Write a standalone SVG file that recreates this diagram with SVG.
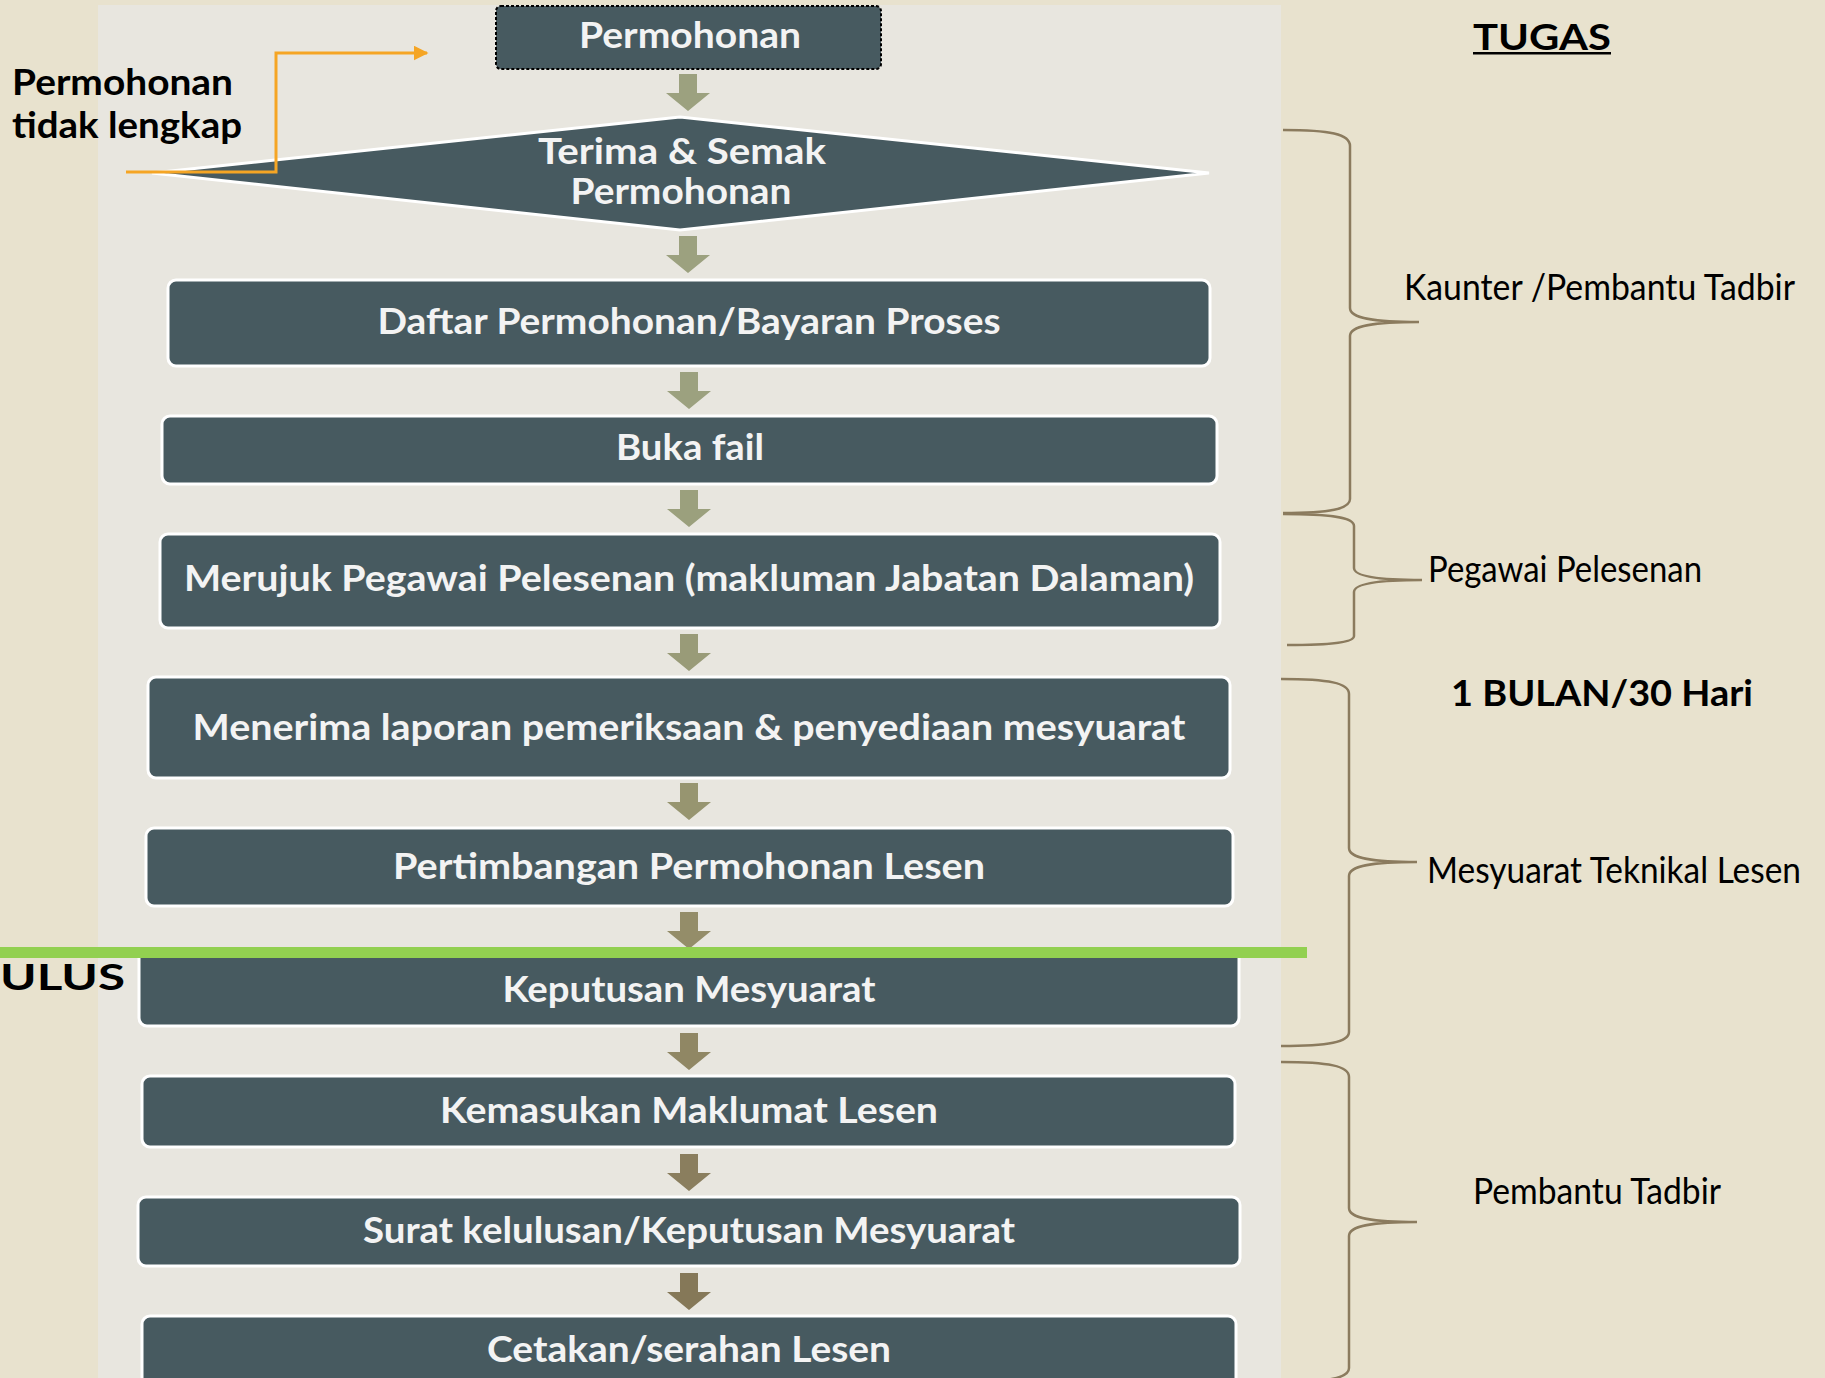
<svg xmlns="http://www.w3.org/2000/svg" xmlns:xlink="http://www.w3.org/1999/xlink" width="1825" height="1378" viewBox="0 0 1825 1378">
<style>
.box{fill:#475A60;stroke:#FFFFFF;stroke-width:3}
.bt{font-family:Lato,"Liberation Sans",sans-serif;font-weight:bold;font-size:36px;fill:#F3F3F3;text-anchor:middle}
.lbl{font-family:Lato,"Liberation Sans",sans-serif;font-size:36px;fill:#000000}
.lblb{font-family:Lato,"Liberation Sans",sans-serif;font-weight:bold;font-size:37px;fill:#000000}
.brace{fill:none;stroke:#8B7B5E;stroke-width:2.5}
</style>
<defs>
<path id="arr" d="M-9,0 H9 V19 H22 L0,37 L-22,19 H-9 Z"/>
<marker id="oarr" viewBox="0 0 10 10" refX="9" refY="5" markerWidth="5" markerHeight="5" orient="auto" markerUnits="strokeWidth">
<path d="M0,0 L10,5 L0,10 Z" fill="#F5A524"/>
</marker>
</defs>
<rect x="0" y="0" width="1825" height="1378" fill="#E8E2CE"/>
<rect x="98" y="5" width="1183" height="1373" fill="#E8E6DF"/>

<g id="connectors">
<use xlink:href="#arr" x="688" y="74" fill="#9CA17F"/>
<use xlink:href="#arr" x="688" y="236" fill="#9CA17F"/>
<use xlink:href="#arr" x="689" y="372" fill="#9CA17F"/>
<use xlink:href="#arr" x="689" y="490" fill="#9BA07D"/>
<use xlink:href="#arr" x="689" y="634" fill="#999B78"/>
<use xlink:href="#arr" x="689" y="783" fill="#979570"/>
<use xlink:href="#arr" x="689" y="912" fill="#948D69"/>
<use xlink:href="#arr" x="689" y="1033" fill="#908764"/>
<use xlink:href="#arr" x="689" y="1154" fill="#8A7E5E"/>
<use xlink:href="#arr" x="689" y="1273" fill="#857858"/>
</g>

<g id="n-permohonan">
<rect x="496" y="6" width="385" height="63" rx="5" fill="#475A60" stroke="#000000" stroke-width="2" stroke-dasharray="3 2"/>
<text class="bt" x="690" y="48" textLength="222" lengthAdjust="spacingAndGlyphs">Permohonan</text>
</g>

<g id="n-terima">
<polygon points="152,173 680,117 1209,173 680,230" fill="#475A60" stroke="#FFFFFF" stroke-width="3"/>
<text class="bt" x="682" y="164" font-size="33" textLength="288" lengthAdjust="spacingAndGlyphs">Terima &amp; Semak</text>
<text class="bt" x="681" y="204" font-size="33" textLength="221" lengthAdjust="spacingAndGlyphs">Permohonan</text>
</g>

<g id="orange-return">
<polyline points="126,172 276,172 276,53 427,53" fill="none" stroke="#F5A524" stroke-width="3" marker-end="url(#oarr)"/>
</g>

<g id="n-tidak-lengkap">
<text class="lblb" x="12" y="95" textLength="221" lengthAdjust="spacingAndGlyphs">Permohonan</text>
<text class="lblb" x="12" y="138" textLength="230" lengthAdjust="spacingAndGlyphs">tidak lengkap</text>
</g>

<g id="n-daftar">
<rect class="box" x="168" y="280" width="1042" height="86" rx="8"/>
<text class="bt" x="689" y="334" textLength="623" lengthAdjust="spacingAndGlyphs">Daftar Permohonan/Bayaran Proses</text>
</g>
<g id="n-buka">
<rect class="box" x="162" y="416" width="1055" height="68" rx="8"/>
<text class="bt" x="690" y="460" textLength="148" lengthAdjust="spacingAndGlyphs">Buka fail</text>
</g>
<g id="n-merujuk">
<rect class="box" x="160" y="534" width="1060" height="94" rx="8"/>
<text class="bt" x="689" y="591" textLength="1010" lengthAdjust="spacingAndGlyphs">Merujuk Pegawai Pelesenan (makluman Jabatan Dalaman)</text>
</g>
<g id="n-menerima">
<rect class="box" x="148" y="677" width="1082" height="101" rx="8"/>
<text class="bt" x="689" y="740" textLength="993" lengthAdjust="spacingAndGlyphs">Menerima laporan pemeriksaan &amp; penyediaan mesyuarat</text>
</g>
<g id="n-pertimbangan">
<rect class="box" x="146" y="828" width="1087" height="78" rx="8"/>
<text class="bt" x="689" y="879" textLength="592" lengthAdjust="spacingAndGlyphs">Pertimbangan Permohonan Lesen</text>
</g>
<g id="n-keputusan">
<rect class="box" x="139" y="950" width="1100" height="76" rx="8"/>
<text class="bt" x="689" y="1002" textLength="373" lengthAdjust="spacingAndGlyphs">Keputusan Mesyuarat</text>
</g>
<g id="n-kemasukan">
<rect class="box" x="142" y="1076" width="1093" height="71" rx="8"/>
<text class="bt" x="689" y="1123" textLength="498" lengthAdjust="spacingAndGlyphs">Kemasukan Maklumat Lesen</text>
</g>
<g id="n-surat">
<rect class="box" x="138" y="1197" width="1102" height="69" rx="8"/>
<text class="bt" x="689" y="1243" textLength="652" lengthAdjust="spacingAndGlyphs">Surat kelulusan/Keputusan Mesyuarat</text>
</g>
<g id="n-cetakan">
<rect class="box" x="142" y="1316" width="1094" height="90" rx="8"/>
<text class="bt" x="689" y="1362" textLength="404" lengthAdjust="spacingAndGlyphs">Cetakan/serahan Lesen</text>
</g>

<g id="lulus-line">
<rect x="0" y="947" width="1307" height="11" fill="#92D050"/>
<text class="lblb" x="0" y="990" font-size="40" font-weight="900" textLength="125" lengthAdjust="spacingAndGlyphs">ULUS</text>
</g>

<g id="n-tugas">
<text class="lblb" x="1473" y="50" textLength="138" lengthAdjust="spacingAndGlyphs">TUGAS</text>
<rect x="1473" y="52" width="138" height="2.5" fill="#000000"/>
</g>

<g id="braces">
<path class="brace" d="M1283,130 C1330,130 1350,134 1350,146 L1350,308 C1350,318 1372,322 1419,322 C1372,322 1350,326 1350,336 L1350,499 C1350,509 1330,513 1283,513"/>
<path class="brace" d="M1283,514 C1334,514 1354,518 1354,526 L1354,568 C1354,576 1376,580 1422,580 C1376,580 1354,584 1354,592 L1354,636 C1354,642 1334,645 1287,645"/>
<path class="brace" d="M1281,679 C1329,679 1349,683 1349,694 L1349,848 C1349,858 1370,862 1417,862 C1370,862 1349,866 1349,876 L1349,1032 C1349,1042 1329,1046 1281,1046"/>
<path class="brace" d="M1281,1062 C1329,1062 1349,1066 1349,1077 L1349,1208 C1349,1218 1370,1222 1417,1222 C1370,1222 1349,1226 1349,1236 L1349,1368 C1349,1378 1329,1382 1281,1382"/>
</g>

<g id="n-kaunter"><text class="lbl" x="1404" y="300" textLength="391" lengthAdjust="spacingAndGlyphs">Kaunter /Pembantu Tadbir</text></g>
<g id="n-pegawai"><text class="lbl" x="1428" y="582" textLength="274" lengthAdjust="spacingAndGlyphs">Pegawai Pelesenan</text></g>
<g id="n-bulan"><text class="lblb" x="1451" y="706" font-size="36" textLength="302" lengthAdjust="spacingAndGlyphs">1 BULAN/30 Hari</text></g>
<g id="n-mesyuarat"><text class="lbl" x="1427" y="883" font-size="33" textLength="374" lengthAdjust="spacingAndGlyphs">Mesyuarat Teknikal Lesen</text></g>
<g id="n-pembantu"><text class="lbl" x="1473" y="1204" textLength="248" lengthAdjust="spacingAndGlyphs">Pembantu Tadbir</text></g>
</svg>
